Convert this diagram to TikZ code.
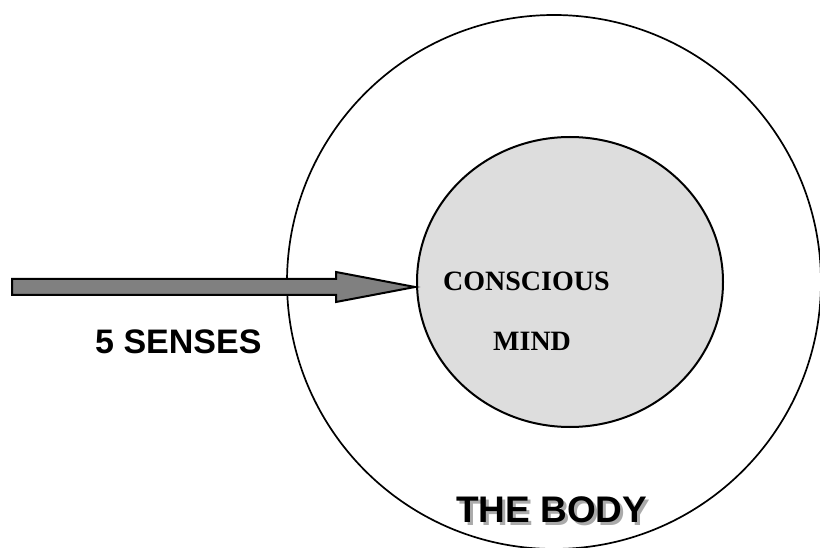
\documentclass[tikz,border=0pt]{standalone}
\usepackage{fontspec}
\usetikzlibrary{shapes.geometric}
\setmainfont{Liberation Serif}
\setsansfont{Liberation Sans}
\definecolor{shadowgray}{RGB}{170,170,170}
\begin{document}
\begin{tikzpicture}[x=1pt,y=-1pt,
  lbl/.style={inner sep=0pt,anchor=base west},
  sanslbl/.style={lbl,font=\sffamily\bfseries\fontsize{34}{36}\selectfont},
  seriflbl/.style={lbl,font=\rmfamily\bfseries\fontsize{28}{30}\selectfont},
  bodylbl/.style={lbl,font=\sffamily\bfseries\fontsize{37}{40}\selectfont}]
\useasboundingbox (0,0) rectangle (820,548);
\begin{scope}
\clip (0,0) rectangle (820,548);
\node[draw=black,line width=1.7pt,circle,minimum size=534pt,inner sep=0pt] (body) at (554,282) {};
\end{scope}
\node[draw=black,line width=2pt,fill={rgb,255:red,221;green,221;blue,221},ellipse,minimum width=306pt,minimum height=290pt,inner sep=0pt] (mind) at (570,282) {};
% arrow
\coordinate (tail) at (12,287);
\coordinate (tip) at (415,287);
\draw[line width=2pt,fill={rgb,255:red,128;green,128;blue,128},line join=miter]
  ([yshift=8pt]tail) -- (336,279) -- (336,272) -- (tip) -- (336,302) -- (336,295) -- ([yshift=-8pt]tail) -- cycle;
% labels
\node[seriflbl] (conscious) at (443,291) {CONSCIOUS};
\node[seriflbl] (mindlbl) at (493,351) {MIND};
\node[sanslbl] (senses) at (95,353) {5 SENSES};
\node[bodylbl] (bodylbl) at (456,522) {\rlap{\kern3pt\raisebox{-3pt}{\color{shadowgray}THE BODY}}THE BODY};
\end{tikzpicture}
\end{document}
